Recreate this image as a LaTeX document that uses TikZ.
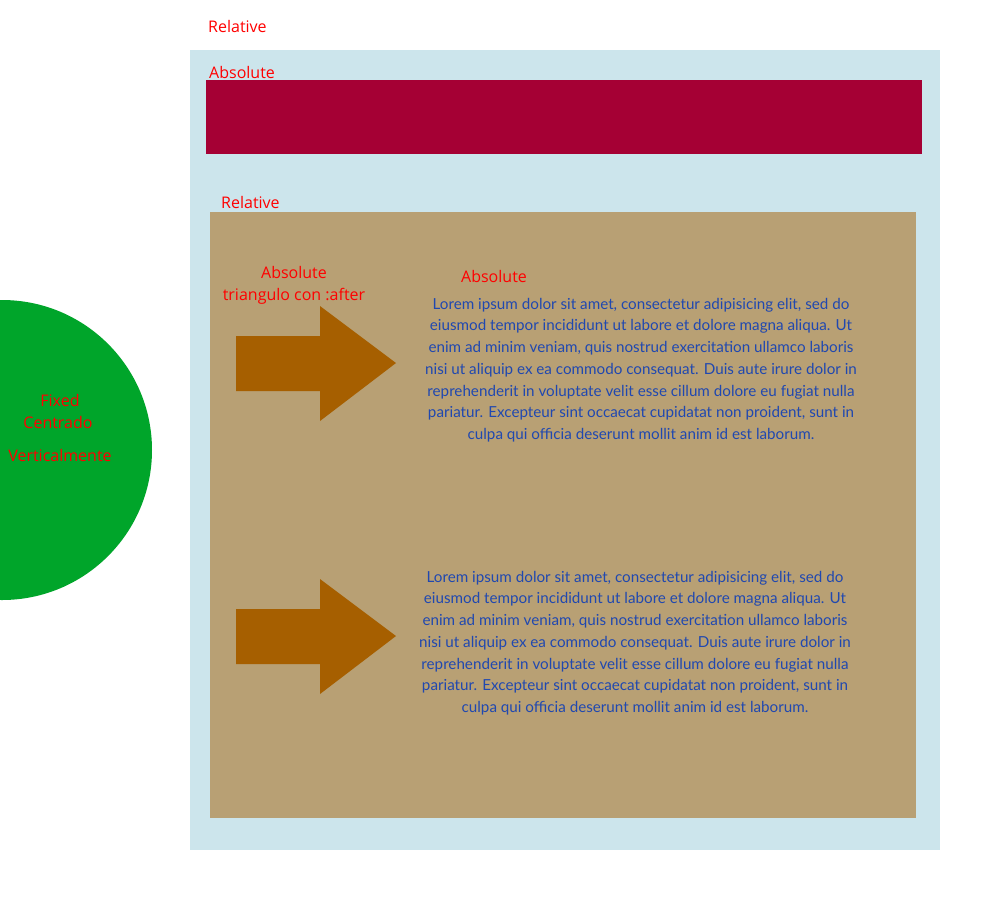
\documentclass[tikz,border=0pt]{standalone}
\usepackage{fontspec}
\setmainfont{Open Sans}
\newfontfamily\lorefont{Lato}
\definecolor{lblue}{HTML}{CCE5EC}
\definecolor{crim}{HTML}{A50034}
\definecolor{tan}{HTML}{B8A074}
\definecolor{grn}{HTML}{00A52A}
\definecolor{arr}{HTML}{A65F00}
\definecolor{lbl}{HTML}{FF0000}
\definecolor{txt}{HTML}{2048B0}
\tikzset{
  lab/.style={text=lbl, font=\fontsize{16}{22}\selectfont, inner sep=0pt},
  lorem/.style={text=txt, align=center, inner sep=0pt, font=\lorefont\fontsize{15.2}{21.7}\selectfont},
}
\begin{document}
\begin{tikzpicture}[x=1pt,y=-1pt]
\useasboundingbox (0,0) rectangle (1000,900);
\clip (0,0) rectangle (1000,900);
\fill[white] (0,0) rectangle (1000,900);
% outer relative container
\fill[lblue] (190,50) rectangle (940,850);
\fill[crim] (206,80) rectangle (922,154);
\fill[tan] (210,212) rectangle (916,818);
% green fixed circle
\fill[grn] (2,450) circle[radius=150];
% arrows
\fill[arr] (236,336) -- (320,336) -- (320,306) -- (396,363) -- (320,421) -- (320,391) -- (236,391) -- cycle;
\fill[arr] (236,609) -- (320,609) -- (320,579) -- (396,636) -- (320,694) -- (320,664) -- (236,664) -- cycle;
% labels
\node[lab, anchor=west] (rel1) at (208,26) {Relative};
\node[lab, anchor=west] (abs1) at (209,72) {Absolute};
\node[lab, anchor=west] (rel2) at (221,202) {Relative};
\node[lab, align=center] (abs2) at (294,285) {Absolute\\triangulo con :after};
\node[lab] (abs3) at (494,276) {Absolute};
\node[lab] (fix1) at (60,400) {Fixed};
\node[lab] (fix2) at (58,422) {Centrado};
\node[lab] (fix3) at (60,455) {Verticalmente};
% lorem texts
\node[lorem] (lor1) at (641,370) {Lorem ipsum dolor sit amet, consectetur adipisicing elit, sed do\\
eiusmod tempor incididunt ut labore et dolore magna aliqua. Ut\\
enim ad minim veniam, quis nostrud exercitation ullamco laboris\\
nisi ut aliquip ex ea commodo consequat. Duis aute irure dolor in\\
reprehenderit in voluptate velit esse cillum dolore eu fugiat nulla\\
pariatur. Excepteur sint occaecat cupidatat non proident, sunt in\\
culpa qui officia deserunt mollit anim id est laborum.};
\node[lorem] (lor2) at (635,643) {Lorem ipsum dolor sit amet, consectetur adipisicing elit, sed do\\
eiusmod tempor incididunt ut labore et dolore magna aliqua. Ut\\
enim ad minim veniam, quis nostrud exercitation ullamco laboris\\
nisi ut aliquip ex ea commodo consequat. Duis aute irure dolor in\\
reprehenderit in voluptate velit esse cillum dolore eu fugiat nulla\\
pariatur. Excepteur sint occaecat cupidatat non proident, sunt in\\
culpa qui officia deserunt mollit anim id est laborum.};
\end{tikzpicture}
\end{document}
